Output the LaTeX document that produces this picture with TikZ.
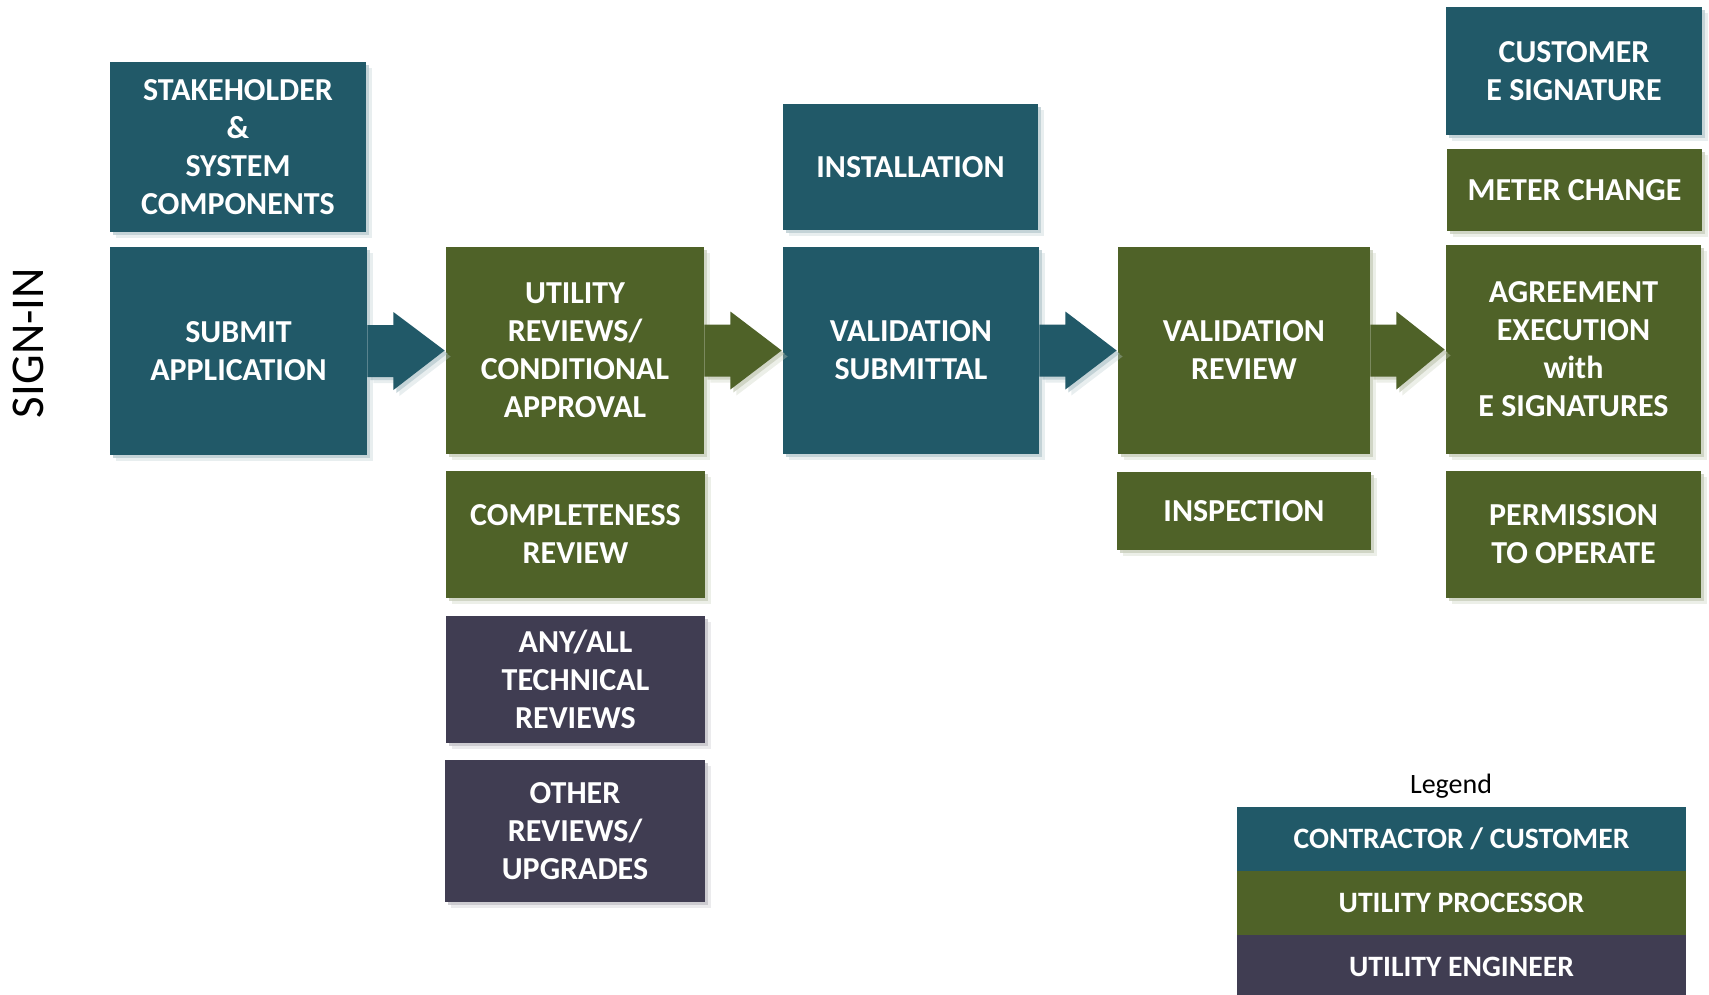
\documentclass[tikz,border=0pt]{standalone}
\usepackage{fontspec}
\setmainfont{Carlito}
\usetikzlibrary{calc,shadows}

\definecolor{contractor}{HTML}{215968}
\definecolor{processor}{HTML}{4F6228}
\definecolor{engineer}{HTML}{403D52}

\begin{document}
\begin{tikzpicture}[x=0.5pt, y=-0.5pt,
  boxsize/.style 2 args={minimum width=#1*0.5pt, minimum height=#2*0.5pt},
  softshadow/.style={
    drop shadow={shadow xshift=1.5pt, shadow yshift=-1.5pt, fill=#1!45, opacity=.55},
    drop shadow={shadow xshift=3pt, shadow yshift=-3pt, fill=#1!30, opacity=.35}},
  stage/.style={fill=#1, text=white, inner sep=0pt, align=center,
    font=\bfseries\fontsize{16}{19}\selectfont, softshadow=#1},
  legendrow/.style={fill=#1, text=white, inner sep=0pt,
    font=\bfseries\fontsize{14.8}{17}\selectfont, boxsize={449}{64}}]

% page size in pixels of the original picture (y runs downwards)
\useasboundingbox (0,0) rectangle (1709,995);

\node[rotate=90, font=\fontsize{23.5}{28}\selectfont] (signin) at (28,343) {SIGN-IN};

% first column
\node[stage=contractor, boxsize={256}{170}] (stake)  at (238,147)   {STAKEHOLDER\\\&\\SYSTEM\\COMPONENTS};
\node[stage=contractor, boxsize={257}{208}] (submit) at (238.5,351) {SUBMIT\\APPLICATION};

% second column
\node[stage=processor, boxsize={258}{207}] (utility)  at (575,350.5)   {UTILITY\\REVIEWS/\\CONDITIONAL\\APPROVAL};
\node[stage=processor, boxsize={259}{127}] (complete) at (575.5,534.5) {COMPLETENESS\\REVIEW};
\node[stage=engineer,  boxsize={259}{127}] (anyall)   at (575.5,679.5) {ANY/ALL\\TECHNICAL\\REVIEWS};
\node[stage=engineer,  boxsize={260}{142}] (other)    at (575,831)     {OTHER\\REVIEWS/\\UPGRADES};

% third column
\node[stage=contractor, boxsize={255}{126}] (install) at (910.5,167) {INSTALLATION};
\node[stage=contractor, boxsize={256}{207}] (valsub)  at (911,350.5) {VALIDATION\\SUBMITTAL};

% fourth column
\node[stage=processor, boxsize={252}{207}] (valrev)  at (1244,350.5) {VALIDATION\\REVIEW};
\node[stage=processor, boxsize={254}{78}]  (inspect) at (1244,511)   {INSPECTION};

% last column
\node[stage=contractor, boxsize={256}{128}] (custsig) at (1574,71)     {CUSTOMER\\E SIGNATURE};
\node[stage=processor,  boxsize={255}{82}]  (meter)   at (1574.5,190)  {METER CHANGE};
\node[stage=processor,  boxsize={255}{209}] (agree)   at (1573.5,349.5){AGREEMENT\\EXECUTION\\with\\E SIGNATURES};
\node[stage=processor,  boxsize={255}{127}] (permit)  at (1573.5,534.5){PERMISSION\\TO OPERATE};

% block arrows between the main steps
\foreach \from/\to/\col in {submit/utility/contractor, utility/valsub/processor,
                            valsub/valrev/contractor, valrev/agree/processor}
  \fill[\col, softshadow=\col] ($(\from.east)+(0,-26)$) -- ++(26,0) -- ++(0,-13)
    -- ($(\to.west)+(-1,0)$) -- ($(\from.east)+(26,39)$) -- ++(0,-13)
    -- ($(\from.east)+(0,26)$) -- cycle;

% legend
\node[font=\fontsize{14}{17}\selectfont] (legend) at (1451,786) {Legend};
\node[legendrow=contractor] (leg1) at (1461.5,839) {CONTRACTOR / CUSTOMER};
\node[legendrow=processor]  (leg2) at (1461.5,903) {UTILITY PROCESSOR};
\node[legendrow=engineer]   (leg3) at (1461.5,967) {UTILITY ENGINEER};

\end{tikzpicture}
\end{document}
